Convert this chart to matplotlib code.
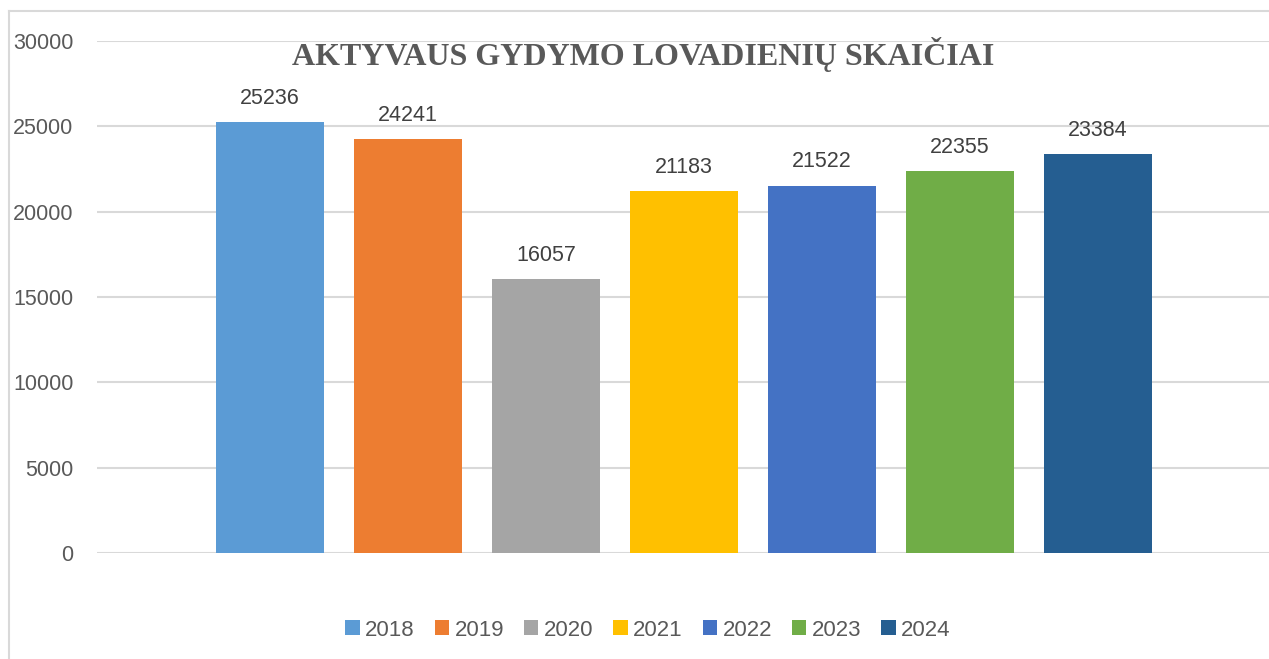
import matplotlib
matplotlib.use("Agg")
import matplotlib.pyplot as plt
from matplotlib.patches import Patch
from matplotlib.lines import Line2D

years = ["2018", "2019", "2020", "2021", "2022", "2023", "2024"]
values = [25236, 24241, 16057, 21183, 21522, 22355, 23384]
colors = ["#5B9BD5", "#ED7D31", "#A5A5A5", "#FFC000", "#4472C4", "#70AD47", "#255E91"]
title = "AKTYVAUS GYDYMO LOVADIENIŲ SKAIČIAI"
yticks = [0, 5000, 10000, 15000, 20000, 25000, 30000]

W, H = 1269, 659
fig = plt.figure(figsize=(W / 100, H / 100), dpi=100)
fig.patch.set_facecolor("white")

ax = fig.add_axes([97 / W, (H - 553) / H, 1 - 97 / W, (553 - 41) / H])
x = list(range(len(years)))
ax.bar(x, values, width=108 / 138, color=colors, zorder=3)
ax.set_ylim(0, 30000)
ax.set_xlim(-173 / 138, 7.24)
ax.set_yticks(yticks)
ax.set_yticklabels([str(t) for t in yticks], fontsize=15.5, color="#595959", family="Liberation Sans")
ax.tick_params(axis="y", length=0, pad=17)
ax.set_xticks([])
for s in ax.spines.values():
    s.set_visible(False)
ax.yaxis.grid(True, color="#D9D9D9", linewidth=1.5, zorder=0)
ax.set_axisbelow(True)

for xi, v in zip(x, values):
    ax.annotate(str(v), (xi, v), xytext=(0, 9.5), textcoords="offset points",
                ha="center", va="bottom", fontsize=15.5, color="#404040", family="Liberation Sans")

fig.text(643 / W, 1 - 55 / H, title, ha="center", va="center", fontsize=23,
         fontweight="bold", family="Liberation Serif", color="#595959")

handles = [Patch(facecolor=c, edgecolor="none", label=y) for c, y in zip(colors, years)]
leg = fig.legend(handles=handles, loc="center", bbox_to_anchor=(648 / W, 1 - 630 / H), ncol=7,
                 frameon=False, handlelength=0.64, handleheight=0.64, handletextpad=0.25,
                 columnspacing=0.9, prop={"family": "Liberation Sans", "size": 16})
for t in leg.get_texts():
    t.set_color("#595959")

fig.add_artist(Line2D([9 / W, 1], [1 - 11 / H, 1 - 11 / H], color="#D9D9D9", linewidth=1.5))
fig.add_artist(Line2D([9 / W, 9 / W], [1 - 11 / H, 0], color="#D9D9D9", linewidth=1.5))

fig.savefig("out.png", dpi=100, facecolor="white")
